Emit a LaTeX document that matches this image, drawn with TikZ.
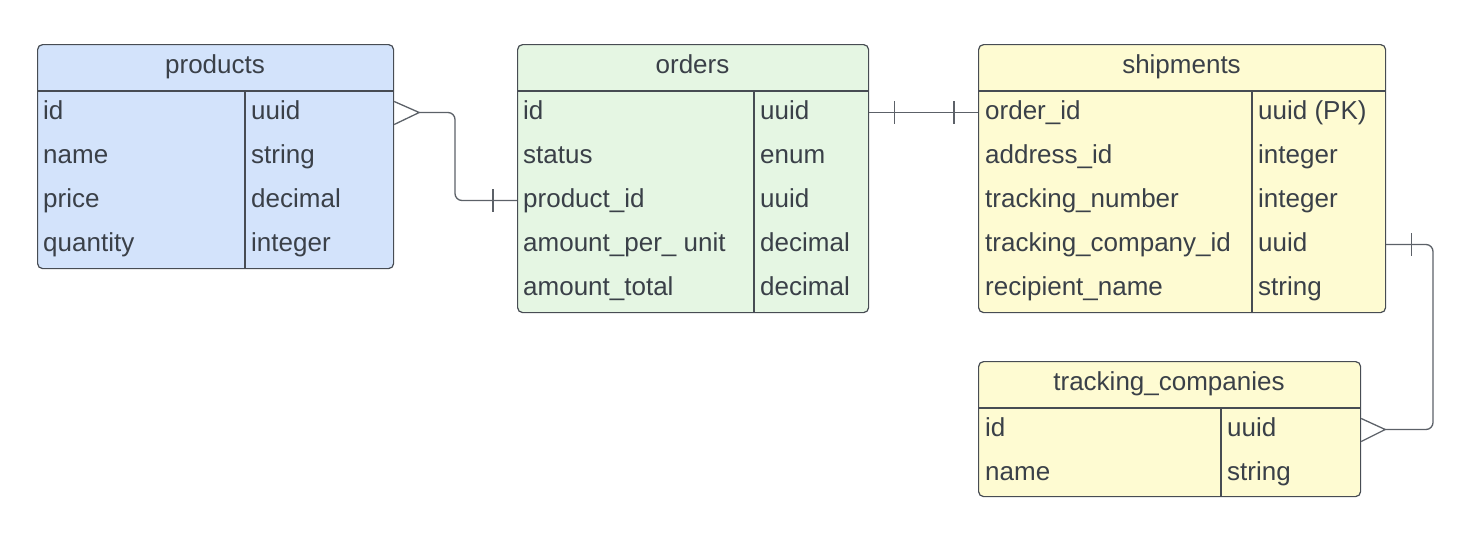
\documentclass[tikz,border=0pt]{standalone}
\usepackage{fontspec}
\setmainfont{Liberation Sans}
\definecolor{txtcol}{HTML}{3A4048}
\definecolor{edgecol}{HTML}{474C53}
\definecolor{linkcol}{HTML}{5C6168}
\definecolor{prodfill}{HTML}{D3E3FB}
\definecolor{ordfill}{HTML}{E5F6E3}
\definecolor{shipfill}{HTML}{FEFBD2}
\tikzset{
  tbl/.style={draw=edgecol, line width=1.2pt, rounded corners=5pt, inner sep=0pt, anchor=north west},
  sep/.style={draw=edgecol, line width=1.1pt},
  hdr/.style={anchor=base, inner sep=0pt, text=txtcol, font=\fontsize{26}{30}\selectfont},
  fld/.style={anchor=base west, inner sep=0pt, text height=18pt, text depth=5pt, text=txtcol, font=\fontsize{26}{30}\selectfont},
  link/.style={draw=linkcol, line width=1.3pt, rounded corners=7pt},
  tickmark/.style={draw=linkcol, line width=1.3pt}
}
\begin{document}
\begin{tikzpicture}[x=1pt, y=-1pt]
            \useasboundingbox (0,0) rectangle (1468,552);
            % products
            \node[tbl, fill=prodfill, minimum width=356pt, minimum height=224pt] (products) at (37,44) {};
            \node[hdr] (products-h) at (215,73) {products};
            \draw[sep] (products.west |- 0,91) -- (products.east |- 0,91);
            \draw[sep] (245,91) -- (245,0 |- products.south);
            \foreach \nm/\ty [count=\i] in {id/uuid, name/string, price/decimal, quantity/integer} {
                \pgfmathsetmacro{\yb}{75+44*\i}
                \node[fld] (products-\i) at (43,\yb) {\nm};
                \node[fld] (products-t\i) at (251,\yb) {\ty};
            }
            % orders
            \node[tbl, fill=ordfill, minimum width=351pt, minimum height=268pt] (orders) at (517,44) {};
            \node[hdr] (orders-h) at (692.5,73) {orders};
            \draw[sep] (orders.west |- 0,91) -- (orders.east |- 0,91);
            \draw[sep] (754,91) -- (754,0 |- orders.south);
            \foreach \nm/\ty [count=\i] in {id/uuid, status/enum, product\_id/uuid, amount\_per\_ unit/decimal, amount\_total/decimal} {
                \pgfmathsetmacro{\yb}{75+44*\i}
                \node[fld] (orders-\i) at (523,\yb) {\nm};
                \node[fld] (orders-t\i) at (760,\yb) {\ty};
            }
            % shipments
            \node[tbl, fill=shipfill, minimum width=407pt, minimum height=268pt] (shipments) at (978,44) {};
            \node[hdr] (shipments-h) at (1181.5,73) {shipments};
            \draw[sep] (shipments.west |- 0,91) -- (shipments.east |- 0,91);
            \draw[sep] (1252,91) -- (1252,0 |- shipments.south);
            \foreach \nm/\ty [count=\i] in {order\_id/uuid (PK), address\_id/integer, tracking\_number/integer, tracking\_company\_id/uuid, recipient\_name/string} {
                \pgfmathsetmacro{\yb}{75+44*\i}
                \node[fld] (shipments-\i) at (985,\yb) {\nm};
                \node[fld] (shipments-t\i) at (1258,\yb) {\ty};
            }
            % tracking companies
            \node[tbl, fill=shipfill, minimum width=382pt, minimum height=135pt] (tracking) at (978,361) {};
            \node[hdr] (tracking-h) at (1169,390) {tracking\_companies};
            \draw[sep] (tracking.west |- 0,408) -- (tracking.east |- 0,408);
            \draw[sep] (1221,408) -- (1221,0 |- tracking.south);
            \foreach \nm/\ty [count=\i] in {id/uuid, name/string} {
                \pgfmathsetmacro{\yb}{392+44*\i}
                \node[fld] (tracking-\i) at (985,\yb) {\nm};
                \node[fld] (tracking-t\i) at (1227,\yb) {\ty};
            }
            % products (many) -- orders.product_id (one)
            \coordinate (bendA) at (455,0);
            \draw[link] (products.east |- products-1) ++(25,0) -| (bendA |- orders-3) -- (orders.west |- orders-3);
            \draw[tickmark] (products.east |- products-1) ++(0,-11) -- ++(25,11) -- ++(-25,12);
            \draw[tickmark] (orders.west |- orders-3) ++(-24,-11.5) -- ++(0,23);
            % orders.id (one) -- shipments.order_id (one)
            \draw[link] (orders.east |- orders-1) -- (shipments.west |- shipments-1);
            \draw[tickmark] (orders.east |- orders-1) ++(25,-11.5) -- ++(0,23);
            \draw[tickmark] (shipments.west |- shipments-1) ++(-24,-11.5) -- ++(0,23);
            % shipments.tracking_company_id (one) -- tracking_companies (many)
            \coordinate (bendB) at (1433,0);
            \draw[link] (shipments.east |- shipments-4) -| (bendB |- tracking-1) -- ++(-49,0);
            \draw[tickmark] (shipments.east |- shipments-4) ++(25,-11.5) -- ++(0,23);
            \draw[tickmark] (tracking.east |- tracking-1) ++(0,-11) -- ++(24,11) -- ++(-24,12);
        \end{tikzpicture}
\end{document}
